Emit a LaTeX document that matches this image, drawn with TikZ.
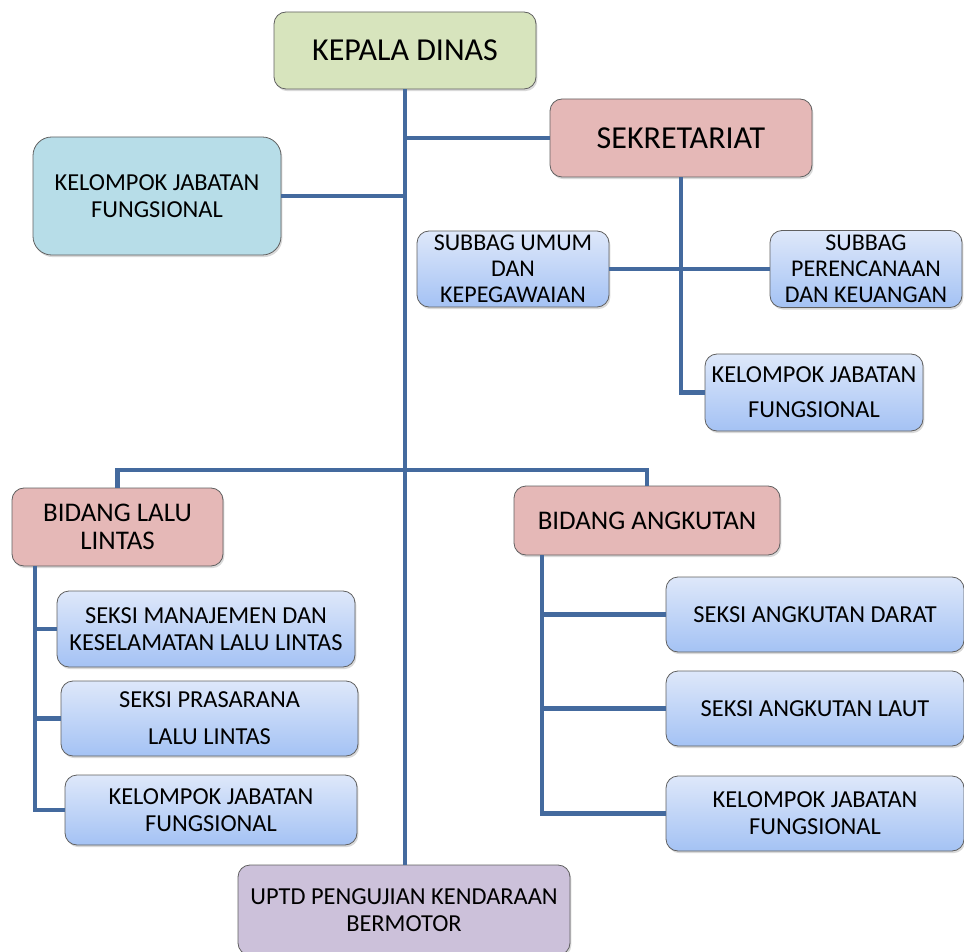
\documentclass[tikz,border=0pt]{standalone}
\usepackage{fontspec}
\setmainfont{Carlito}
\usetikzlibrary{positioning,shadows}
\definecolor{linkblue}{RGB}{68,106,158}
\definecolor{headgreen}{RGB}{215,228,189}
\definecolor{bidangpink}{RGB}{229,184,183}
\definecolor{fungcyan}{RGB}{183,221,232}
\definecolor{uptdpurple}{RGB}{204,193,218}
\definecolor{subtop}{RGB}{222,232,250}
\definecolor{subbot}{RGB}{164,194,244}

\begin{document}
\begin{tikzpicture}[x=0.75pt,y=-0.75pt,
    box/.style={draw=gray!75!black,line width=0.6pt,rounded corners=9pt,align=center,inner sep=1pt,
      drop shadow={opacity=0.3,shadow xshift=1pt,shadow yshift=-1.6pt},font=\fontsize{18.3}{20.5}\selectfont},
    sub/.style={box,top color=subtop,bottom color=subbot},
    link/.style={draw=linkblue,line width=3.6pt}]
  \useasboundingbox (0,0) rectangle (964,952);

  \node[box,fill=headgreen,minimum width=196.5pt,minimum height=57.75pt,font=\fontsize{24}{28}\selectfont] (kepala) at (405,50.5) {KEPALA DINAS};
  \node[box,fill=bidangpink,minimum width=196.5pt,minimum height=58.5pt,font=\fontsize{24}{28}\selectfont] (sekretariat) at (681,138) {SEKRETARIAT};
  \node[box,fill=fungcyan,minimum width=186pt,minimum height=88.5pt,rounded corners=14pt] (kjf0) at (157,196) {KELOMPOK JABATAN\\FUNGSIONAL};
  \node[sub,minimum width=144pt,minimum height=57pt,font=\fontsize{18}{19.5}\selectfont] (umum) at (513,269) {SUBBAG UMUM\\DAN\\KEPEGAWAIAN};
  \node[sub,minimum width=144pt,minimum height=57.75pt,font=\fontsize{18}{19.5}\selectfont] (renc) at (866,269) {SUBBAG\\PERENCANAAN\\DAN KEUANGAN};
  \node[sub,minimum width=163.5pt,minimum height=57.75pt] (kjf1) at (814,392.5) {KELOMPOK JABATAN\\[6pt]FUNGSIONAL};

  \node[box,fill=bidangpink,minimum width=158.25pt,minimum height=58.5pt,font=\fontsize{20.2}{21}\selectfont] (bll) at (117.5,527) {BIDANG LALU\\LINTAS};
  \node[box,fill=bidangpink,minimum width=199.5pt,minimum height=51.75pt,font=\fontsize{20.2}{21}\selectfont] (ba) at (647,520.5) {BIDANG ANGKUTAN};

  \node[sub,minimum width=223.5pt,minimum height=57pt] (smk) at (206,629) {SEKSI MANAJEMEN DAN\\KESELAMATAN LALU LINTAS};
  \node[sub,minimum width=222.75pt,minimum height=56.25pt] (spl) at (209.5,718.5) {SEKSI PRASARANA\\[7pt]LALU LINTAS};
  \node[sub,minimum width=219pt,minimum height=52.5pt] (kjf2) at (211,810) {KELOMPOK JABATAN\\FUNGSIONAL};

  \node[sub,minimum width=223.5pt,minimum height=56.25pt] (sad) at (815,614.5) {SEKSI ANGKUTAN DARAT};
  \node[sub,minimum width=223.5pt,minimum height=56.25pt] (sal) at (815,708.5) {SEKSI ANGKUTAN LAUT};
  \node[sub,minimum width=223.5pt,minimum height=56.25pt] (kjf3) at (815,813.5) {KELOMPOK JABATAN\\FUNGSIONAL};

  \node[box,fill=uptdpurple,minimum width=249pt,minimum height=67.5pt] (uptd) at (404,910) {UPTD PENGUJIAN KENDARAAN\\BERMOTOR};

  \coordinate (bar) at (405,470);
  \coordinate (lb) at (35,566);
  \coordinate (rb) at (542,555);

  \path[link] (kepala.south) -- (kepala.south |- uptd.north)
    (kepala.south |- sekretariat.west) -- (sekretariat.west)
    (kjf0.east) -- (kjf0.east -| kepala.south)
    (sekretariat.south) |- (kjf1.west)
    (umum.east) -- (renc.west)
    (bll.north) |- (bar) -| (ba.north)
    (lb) |- (kjf2.west)
    (lb |- smk.west) -- (smk.west)
    (lb |- spl.west) -- (spl.west)
    (rb) |- (kjf3.west)
    (rb |- sad.west) -- (sad.west)
    (rb |- sal.west) -- (sal.west);
\end{tikzpicture}
\end{document}
